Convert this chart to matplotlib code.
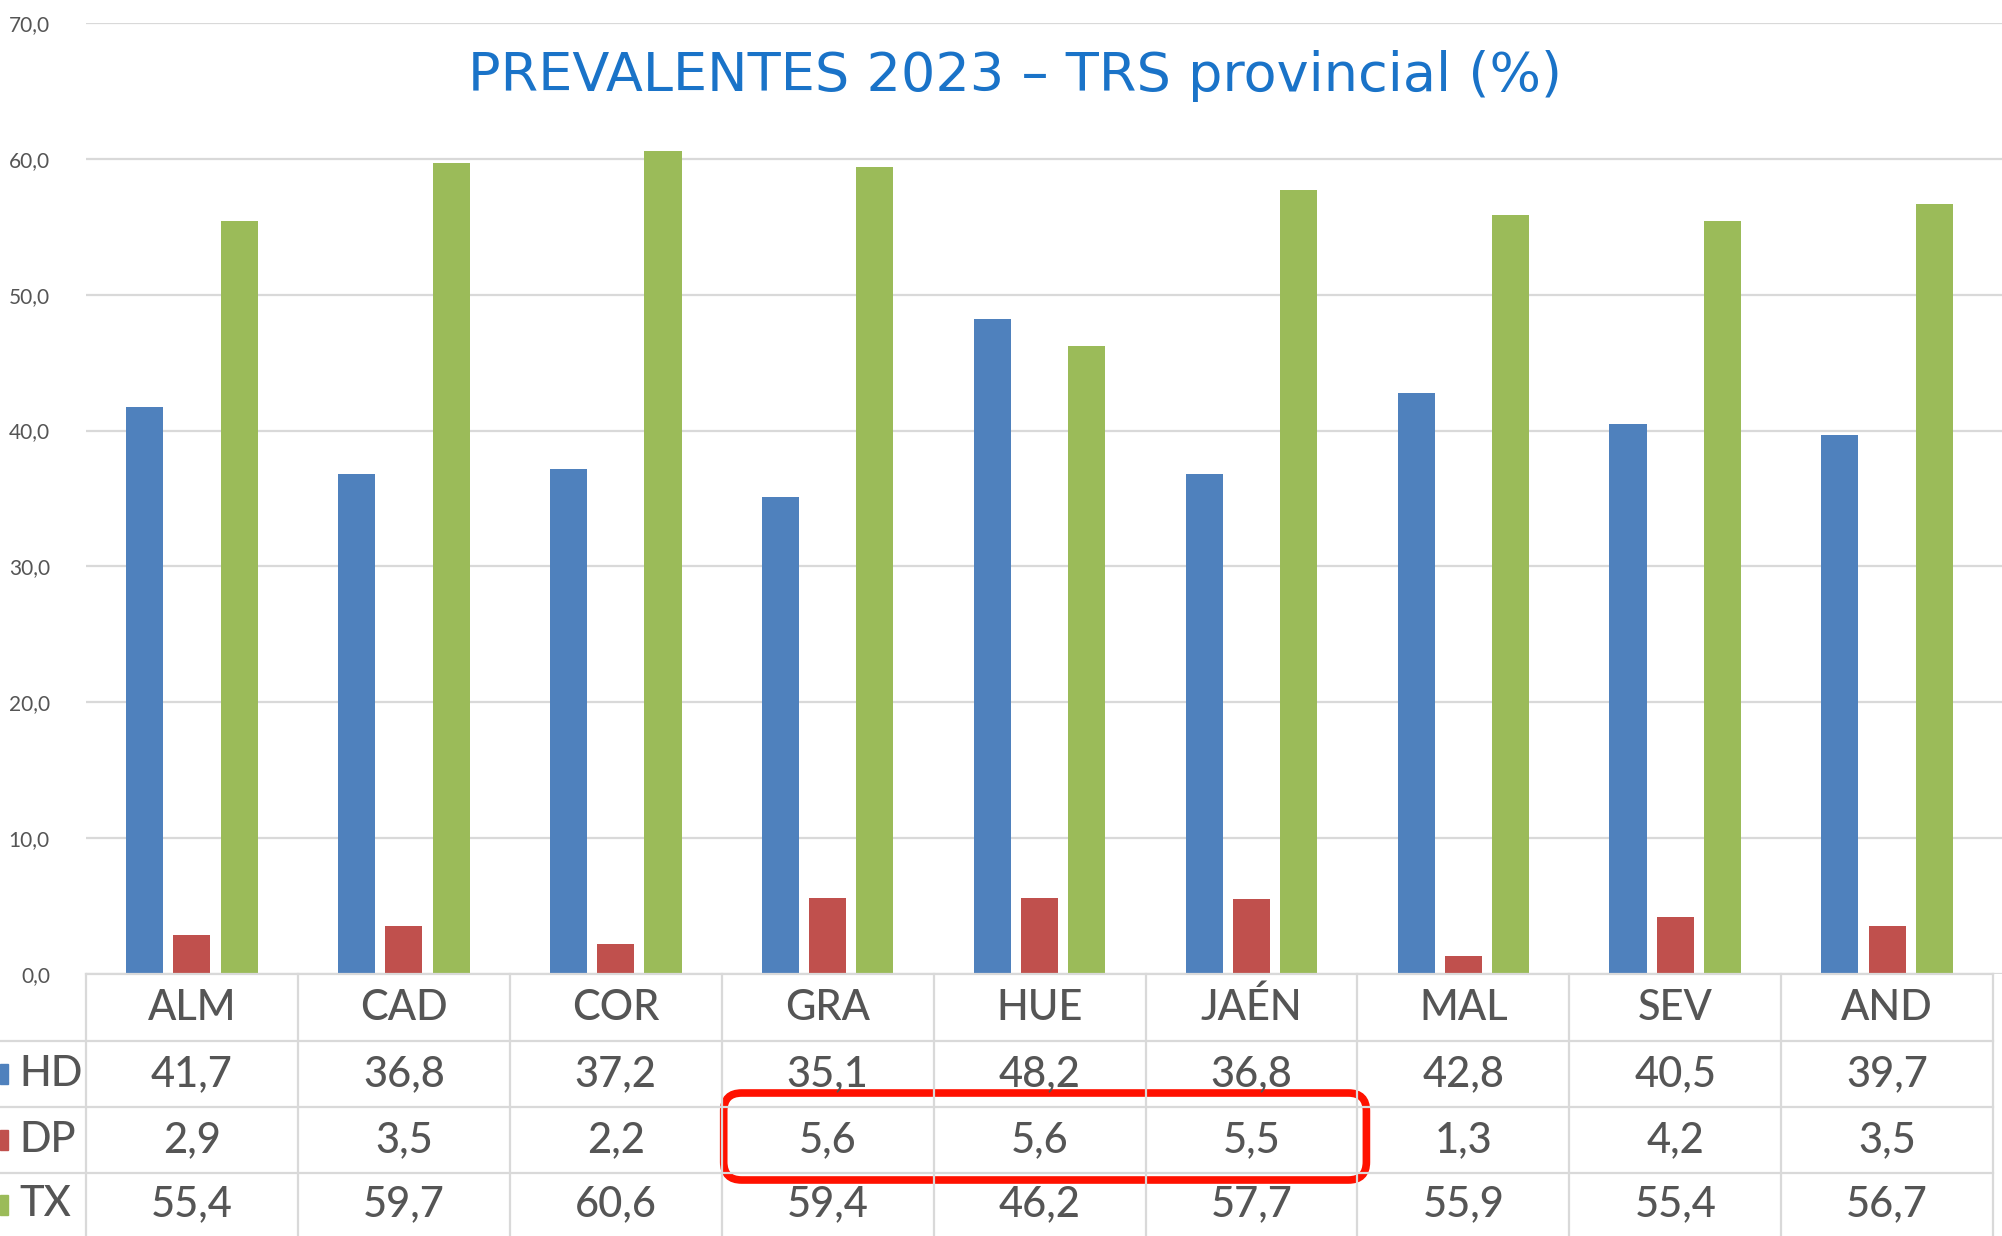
import matplotlib
matplotlib.use("Agg")
import matplotlib.pyplot as plt
from matplotlib.patches import FancyBboxPatch, Rectangle
import numpy as np

# datos
provincias = ["ALM", "CAD", "COR", "GRA", "HUE", "JAÉN", "MAL", "SEV", "AND"]
hd = [41.7, 36.8, 37.2, 35.1, 48.2, 36.8, 42.8, 40.5, 39.7]
dp = [2.9, 3.5, 2.2, 5.6, 5.6, 5.5, 1.3, 4.2, 3.5]
tx = [55.4, 59.7, 60.6, 59.4, 46.2, 57.7, 55.9, 55.4, 56.7]
series = ["HD", "DP", "TX"]
colores = ["#4F81BD", "#C0504D", "#9BBB59"]
yticks = [0, 10, 20, 30, 40, 50, 60, 70]
destacadas = ["GRA", "HUE", "JAÉN"]  # recuadro rojo en la fila DP

# geometria en pixeles
W, H = 2002, 1236
x_left = 86
col_w = 211.9
y_zero = 974
y_top = 23
filas = [974, 1041, 1107, 1173, 1236]
gris = "#555555"
linea = "#D9D9D9"
fuente = ["Lato", "DejaVu Sans"]

fig = plt.figure(figsize=(W / 100, H / 100), dpi=100)

ax = fig.add_axes([x_left / W, (H - y_zero) / H, (W - x_left) / W, (y_zero - y_top) / H])
ax.set_xlim(-0.5, -0.5 + (W - x_left) / col_w)
ax.set_ylim(0, 70)

x = np.arange(len(provincias))
offs = [-0.223, 0.0, 0.223]
for vals, c, o in zip([hd, dp, tx], colores, offs):
    ax.bar(x + o, vals, width=0.175, color=c, zorder=3)

ax.set_yticks(yticks)
ax.set_yticklabels([f"{v:.1f}".replace(".", ",") for v in yticks],
                   color=gris, fontsize=15, family=fuente)
ax.tick_params(axis="y", length=0, pad=26)
ax.set_xticks([])
ax.yaxis.grid(True, color=linea, lw=1.6)
ax.set_axisbelow(True)
for s in ax.spines.values():
    s.set_visible(False)

# tabla de datos (en pixeles)
tab = fig.add_axes([0, 0, 1, 1])
tab.set_xlim(0, W)
tab.set_ylim(H, 0)
tab.axis("off")
tab.patch.set_alpha(0)

x_right = x_left + len(provincias) * col_w
for i in range(len(provincias) + 1):
    xe = x_left + i * col_w
    tab.plot([xe, xe], [y_zero, H], color=linea, lw=1.6)
tab.plot([x_left, x_right], [y_zero, y_zero], color=linea, lw=1.6)
for yr in filas[1:4]:
    tab.plot([0, x_right], [yr, yr], color=linea, lw=1.6)

centros = [(filas[k] + filas[k + 1]) / 2 for k in range(4)]
for i, p in enumerate(provincias):
    xc = x_left + (i + 0.5) * col_w
    tab.text(xc, centros[0], p, ha="center", va="center", fontsize=30,
             color=gris, family=fuente, weight="medium")
    for k, vals in enumerate([hd, dp, tx]):
        tab.text(xc, centros[k + 1], f"{vals[i]:.1f}".replace(".", ","),
                 ha="center", va="center", fontsize=30, color=gris,
                 family=fuente, weight="medium")

for k, (s, c) in enumerate(zip(series, colores)):
    yc = centros[k + 1]
    tab.add_patch(Rectangle((0, yc - 10), 8, 20, color=c))
    tab.text(19, yc, s, ha="left", va="center", fontsize=30, color=gris,
             family=fuente, weight="medium")

i0 = provincias.index(destacadas[0])
i1 = provincias.index(destacadas[-1])
bx0 = x_left + i0 * col_w + 2
bx1 = x_left + (i1 + 1) * col_w + 9
tab.add_patch(FancyBboxPatch((bx0, filas[2] - 14), bx1 - bx0, filas[3] - filas[2] + 21,
                             boxstyle="round,pad=0,rounding_size=18",
                             fill=False, ec="#FF1100", lw=5.5))

fig.text(1015 / W, 1 - 76 / H, "PREVALENTES 2023 – TRS provincial (%)",
         ha="center", va="center", fontsize=39, color="#1A73C8", family="DejaVu Sans")

fig.savefig("out.png", dpi=100)
